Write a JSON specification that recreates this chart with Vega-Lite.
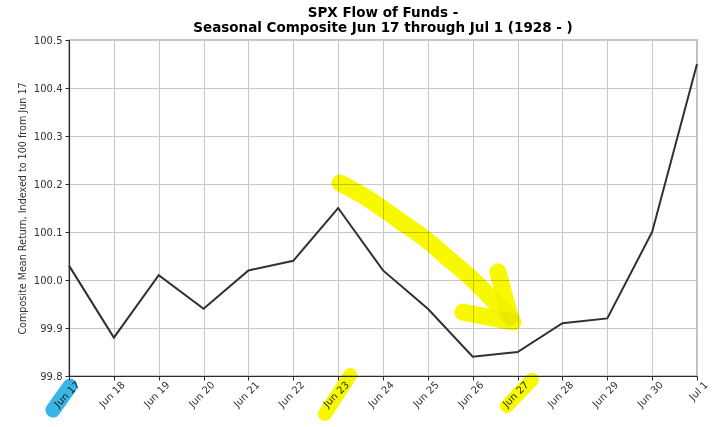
{
  "$schema": "https://vega.github.io/schema/vega-lite/v6.json",
  "width": 628,
  "height": 336,
  "autosize": {"type": "none"},
  "padding": {"left": 69, "top": 40, "right": 25, "bottom": 51},
  "background": "white",
  "config": {
    "font": "DejaVu Sans",
    "view": {"stroke": "#2b2b2b", "strokeWidth": 1.2},
    "axis": {
      "labelFont": "DejaVu Sans",
      "titleFont": "DejaVu Sans",
      "labelFontSize": 10,
      "labelColor": "#333333",
      "titleFontSize": 9.6,
      "titleFontWeight": "normal",
      "titleColor": "#333333",
      "gridColor": "#c8c8c8",
      "gridWidth": 1,
      "gridOpacity": 1,
      "domainColor": "#2b2b2b",
      "domainWidth": 1.2,
      "tickColor": "#2b2b2b",
      "tickSize": 4
    }
  },
  "title": {
    "text": ["SPX Flow of Funds -", "Seasonal Composite Jun 17 through Jul 1 (1928 - )"],
    "font": "DejaVu Sans",
    "fontSize": 13.5,
    "fontWeight": "bold",
    "color": "#000000",
    "anchor": "middle",
    "lineHeight": 15,
    "offset": 1
  },
  "datasets": {
    "composite": [
      {"date": "2024-06-17T00:00", "value": 100.03},
      {"date": "2024-06-18T00:00", "value": 99.88},
      {"date": "2024-06-19T00:00", "value": 100.01},
      {"date": "2024-06-20T00:00", "value": 99.94},
      {"date": "2024-06-21T00:00", "value": 100.02},
      {"date": "2024-06-22T00:00", "value": 100.04},
      {"date": "2024-06-23T00:00", "value": 100.15},
      {"date": "2024-06-24T00:00", "value": 100.02},
      {"date": "2024-06-25T00:00", "value": 99.94},
      {"date": "2024-06-26T00:00", "value": 99.84},
      {"date": "2024-06-27T00:00", "value": 99.85},
      {"date": "2024-06-28T00:00", "value": 99.91},
      {"date": "2024-06-29T00:00", "value": 99.92},
      {"date": "2024-06-30T00:00", "value": 100.1},
      {"date": "2024-07-01T00:00", "value": 100.45}
    ],
    "arrow": [
      {"part": "shaft", "date": "2024-06-23T01:00", "value": 100.202},
      {"part": "shaft", "date": "2024-06-23T15:20", "value": 100.171},
      {"part": "shaft", "date": "2024-06-24T09:00", "value": 100.123},
      {"part": "shaft", "date": "2024-06-24T23:30", "value": 100.083},
      {"part": "shaft", "date": "2024-06-25T11:45", "value": 100.042},
      {"part": "shaft", "date": "2024-06-26T00:15", "value": 100.0},
      {"part": "shaft", "date": "2024-06-26T10:50", "value": 99.958},
      {"part": "shaft", "date": "2024-06-26T20:00", "value": 99.921},
      {"part": "barb1", "date": "2024-06-25T18:45", "value": 99.933},
      {"part": "barb1", "date": "2024-06-26T21:30", "value": 99.9125},
      {"part": "barb2", "date": "2024-06-26T13:30", "value": 100.017},
      {"part": "barb2", "date": "2024-06-26T20:00", "value": 99.923}
    ],
    "marker": [
      {"id": "jun23", "date": "2024-06-22T17:00", "value": 99.721},
      {"id": "jun23", "date": "2024-06-23T06:30", "value": 99.802},
      {"id": "jun27", "date": "2024-06-26T18:15", "value": 99.7375},
      {"id": "jun27", "date": "2024-06-27T07:40", "value": 99.792}
    ],
    "start": [
      {"id": "jun17", "date": "2024-06-16T15:25", "value": 99.729},
      {"id": "jun17", "date": "2024-06-17T00:30", "value": 99.779}
    ]
  },
  "encoding": {
    "x": {
      "field": "date",
      "type": "temporal",
      "scale": {
        "domain": [
          {"year": 2024, "month": 6, "date": 17},
          {"year": 2024, "month": 7, "date": 1}
        ],
        "nice": false
      },
      "axis": {
        "title": null,
        "format": "%b %-d",
        "tickCount": {"interval": "day", "step": 1},
        "labelAngle": -45,
        "labelAlign": "right",
        "labelBaseline": "middle",
        "labelOffset": 9,
        "labelPadding": 3,
        "labelOverlap": false,
        "grid": true
      }
    },
    "y": {
      "field": "value",
      "type": "quantitative",
      "scale": {"domain": [99.8, 100.5], "nice": false, "zero": false},
      "axis": {
        "title": "Composite Mean Return, Indexed to 100 from Jun 17",
        "format": ".1f",
        "values": [99.8, 99.9, 100.0, 100.1, 100.2, 100.3, 100.4, 100.5],
        "titlePadding": 6,
        "labelPadding": 3,
        "grid": true
      }
    }
  },
  "layer": [
    {
      "data": {"name": "composite"},
      "mark": {"type": "line", "color": "#2c303b", "strokeWidth": 2}
    },
    {
      "data": {"name": "arrow"},
      "mark": {
        "type": "line",
        "color": "#f8f800",
        "strokeWidth": 17,
        "strokeCap": "round",
        "strokeJoin": "round",
        "interpolate": "monotone",
        "blend": "multiply",
        "clip": false
      },
      "encoding": {"detail": {"field": "part"}}
    },
    {
      "data": {"name": "marker"},
      "mark": {
        "type": "line",
        "color": "#f8f800",
        "strokeWidth": 14,
        "strokeCap": "round",
        "blend": "multiply",
        "clip": false
      },
      "encoding": {"detail": {"field": "id"}}
    },
    {
      "data": {"name": "start"},
      "mark": {
        "type": "line",
        "color": "#3ab5e6",
        "strokeWidth": 15,
        "strokeCap": "round",
        "blend": "multiply",
        "clip": false
      },
      "encoding": {"detail": {"field": "id"}}
    }
  ]
}
